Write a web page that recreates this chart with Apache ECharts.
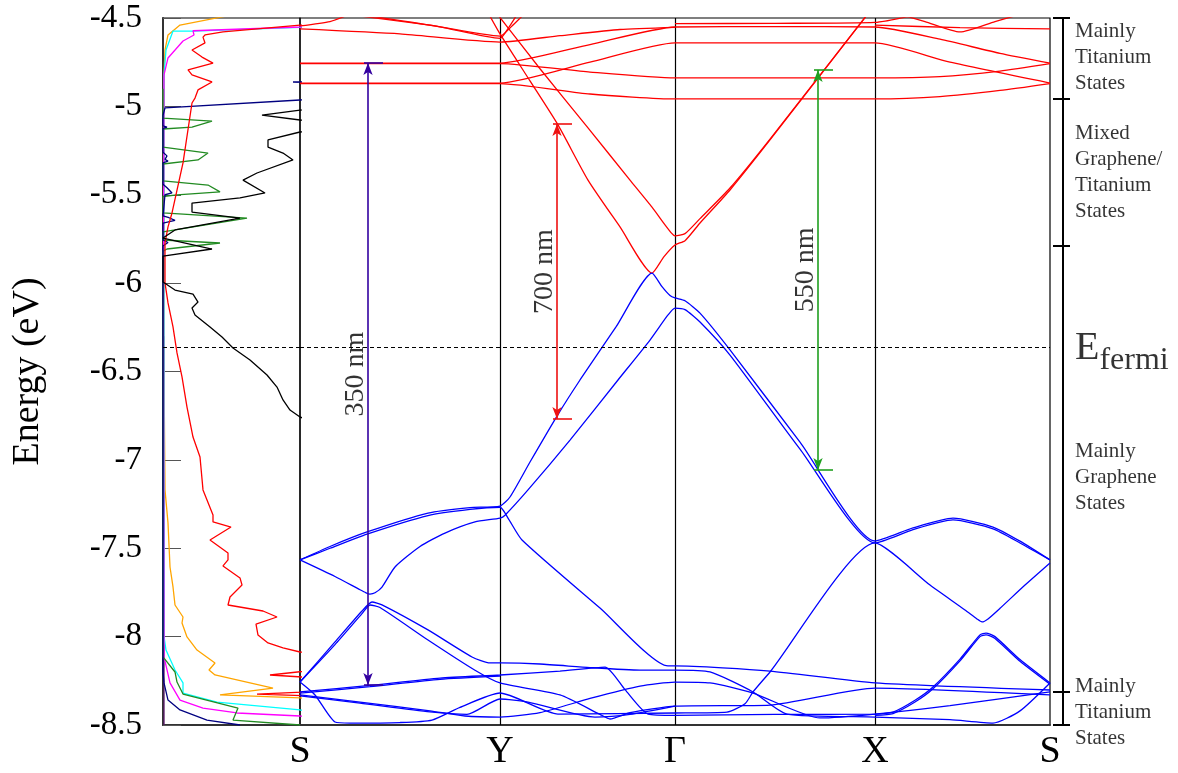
<!DOCTYPE html>
<html><head><meta charset="utf-8">
<script src="https://cdn.jsdelivr.net/npm/echarts@6/dist/echarts.min.js"></script>
<style>html,body{margin:0;padding:0;background:#fff}#c{width:1178px;height:773px}</style>
</head><body><div id="c"></div>
<script>
// ---------- data ----------
const kPoints = [0, 200, 375, 575, 750];
const kLabels = ['S', 'Y', 'Γ', 'X', 'S'];
const energyMin = -8.5, energyMax = -4.5, energyStep = 0.5;
const fermiLevel = -6.361;

// DOS components: [dos, energy]
const dosTotal = [[200,-4.5],[200,-4.99],[137,-5.021],[99,-5.049],[137,-5.077],[200,-5.11],[200,-5.13],[137,-5.145],[105,-5.190],[105,-5.230],[120,-5.264],[130,-5.303],[94,-5.377],[80,-5.417],[102,-5.490],[77,-5.518],[29,-5.547],[29,-5.598],[77,-5.632],[12,-5.699],[0,-5.745],[49,-5.807],[0,-5.847],[0,-5.994],[12,-6.039],[30,-6.062],[35,-6.107],[29,-6.141],[32,-6.180],[47,-6.248],[59,-6.305],[70,-6.367],[87,-6.435],[104,-6.520],[114,-6.588],[120,-6.661],[127,-6.718],[137,-6.757],[200,-6.9],[200,-8.5]];
const dosRed = [[200,-4.5],[200,-4.52],[137,-4.540],[60,-4.579],[42,-4.596],[40,-4.608],[42,-4.641],[29,-4.681],[39,-4.721],[50,-4.755],[25,-4.794],[29,-4.822],[49,-4.862],[35,-4.907],[32,-4.953],[29,-4.981],[20,-5.320],[9,-5.603],[5,-5.682],[2,-5.773],[2,-5.999],[5,-6.112],[10,-6.248],[14,-6.395],[19,-6.531],[24,-6.701],[30,-6.871],[37,-6.984],[40,-7.170],[50,-7.312],[50,-7.351],[68,-7.380],[47,-7.453],[65,-7.527],[65,-7.566],[60,-7.600],[77,-7.668],[79,-7.708],[67,-7.776],[65,-7.821],[100,-7.855],[114,-7.889],[93,-7.929],[95,-7.991],[105,-8.036],[120,-8.064],[137,-8.087],[200,-8.12],[200,-8.16],[107,-8.217],[200,-8.25],[200,-8.30],[94,-8.325],[200,-8.345],[200,-8.5]];
const dosOrange = [[90,-4.46],[59,-4.494],[17,-4.540],[5,-4.596],[2,-4.681],[1,-4.822],[1,-6.5],[2,-7.170],[5,-7.357],[7,-7.606],[10,-7.719],[12,-7.821],[20,-7.889],[19,-7.923],[24,-8.002],[34,-8.076],[52,-8.149],[46,-8.189],[52,-8.217],[110,-8.291],[57,-8.330],[137,-8.347],[200,-8.37],[200,-8.5]];
const dosCyan = [[200,-4.53],[137,-4.553],[30,-4.574],[10,-4.574],[3,-4.681],[1,-4.82],[1,-8.0],[3,-8.076],[12,-8.189],[20,-8.262],[20,-8.319],[54,-8.370],[137,-8.415],[200,-8.43]];
const dosMagenta = [[200,-4.52],[137,-4.551],[30,-4.572],[31,-4.596],[20,-4.630],[5,-4.726],[1,-4.822],[0.5,-6.0],[1,-8.115],[7,-8.262],[17,-8.359],[40,-8.404],[74,-8.432],[137,-8.449],[200,-8.46]];
const dosGreen = [[0,-4.9],[0,-5.066],[49,-5.083],[29,-5.117],[0,-5.128],[0,-5.23],[45,-5.264],[35,-5.303],[0,-5.326],[0,-5.422],[45,-5.445],[57,-5.484],[14,-5.501],[0,-5.51],[0,-5.603],[84,-5.632],[12,-5.699],[0,-5.71],[0,-5.756],[57,-5.773],[4,-5.807],[0,-5.82],[0,-8.115],[1,-8.121],[12,-8.200],[14,-8.257],[20,-8.325],[75,-8.404],[70,-8.472],[137,-8.5]];
const dosNavy = [[200,-4.5],[200,-4.85],[130,-4.862],[200,-4.875],[200,-4.95],[137,-4.964],[2,-5.009],[0,-5.05],[0,-5.11],[4,-5.117],[0,-5.125],[0,-5.26],[4,-5.28],[2,-5.30],[5,-5.31],[0,-5.32],[0,-5.44],[4,-5.46],[9,-5.49],[2,-5.50],[0,-5.51],[0,-5.62],[6,-5.63],[12,-5.645],[0,-5.66],[0,-5.755],[5,-5.77],[3,-5.78],[0,-5.79],[0,-8.2],[1,-8.262],[5,-8.359],[17,-8.415],[44,-8.472],[77,-8.5]];
const dosPurple = [[1,-6.3],[1,-8.5]];

// band structure: [k, energy]
const conductionBands = [
 [[0,-4.755],[200,-4.755],[290,-4.65],[375,-4.551],[475,-4.549],[575,-4.551],[640,-4.62],[700,-4.70],[750,-4.755]],
 [[0,-4.758],[200,-4.758],[290,-4.806],[375,-4.839],[475,-4.839],[575,-4.839],[640,-4.832],[700,-4.80],[750,-4.758]],
 [[0,-4.868],[200,-4.868],[290,-4.75],[375,-4.641],[475,-4.641],[575,-4.641],[650,-4.75],[750,-4.868]],
 [[0,-4.871],[200,-4.871],[290,-4.93],[375,-4.958],[475,-4.958],[575,-4.958],[640,-4.945],[700,-4.91],[750,-4.871]],
 [[0,-4.545],[30,-4.52],[45,-4.49]],
 [[0,-4.562],[100,-4.59],[200,-4.636],[260,-4.6],[320,-4.565],[375,-4.553]],
 [[62,-4.49],[130,-4.54],[200,-4.602],[212,-4.545],[222,-4.49]],
 [[72,-4.49],[140,-4.55],[200,-4.615],[208,-4.56],[216,-4.49]],
 [[375,-4.532],[475,-4.53],[575,-4.525],[610,-4.49]],
 [[575,-4.54],[660,-4.555],[750,-4.562]],
 [[600,-4.48],[625,-4.52],[660,-4.579],[695,-4.52],[720,-4.48]],
 [[190,-4.49],[200,-4.59],[230,-4.856],[258,-5.105],[288,-5.417],[320,-5.682],[352,-5.943],[364,-5.85],[375,-5.784],[385,-5.76],[400,-5.66],[430,-5.473],[470,-5.19],[566,-4.49]],
 [[199,-4.49],[240,-4.787],[288,-5.122],[330,-5.417],[352,-5.57],[365,-5.67],[372,-5.72],[375,-5.733],[385,-5.72],[400,-5.635],[430,-5.462],[470,-5.185],[566,-4.49]]
];
const valenceBands = [
 [[0,-7.566],[30,-7.49],[67,-7.408],[128,-7.301],[170,-7.27],[200,-7.261],[210,-7.21],[230,-7.012],[257,-6.752],[280,-6.548],[316,-6.248],[352,-5.943],[362,-6.02],[370,-6.07],[375,-6.084],[385,-6.10],[400,-6.17],[430,-6.378],[500,-6.90],[575,-7.459],[613,-7.385],[653,-7.33],[693,-7.38],[720,-7.46],[750,-7.566]],
 [[0,-7.566],[30,-7.50],[67,-7.42],[128,-7.315],[170,-7.28],[200,-7.268],[208,-7.329],[222,-7.453],[300,-7.838],[368,-8.166],[375,-8.166],[470,-8.195],[575,-8.262],[750,-8.302]],
 [[0,-7.566],[35,-7.66],[60,-7.735],[66,-7.752],[70,-7.759],[75,-7.752],[82,-7.72],[95,-7.606],[120,-7.49],[145,-7.414],[175,-7.351],[200,-7.329],[205,-7.313],[228,-7.17],[270,-6.888],[318,-6.548],[350,-6.322],[368,-6.18],[375,-6.141],[385,-6.15],[400,-6.22],[430,-6.407],[500,-6.939],[575,-7.47],[613,-7.395],[653,-7.34],[693,-7.39],[720,-7.47],[750,-7.566]],
 [[0,-8.257],[15,-8.33],[35,-8.483],[50,-8.489],[100,-8.486],[132,-8.472],[160,-8.40],[200,-8.319],[258,-8.438],[375,-8.432],[427,-8.427],[445,-8.38],[453,-8.313],[470,-8.20],[575,-7.47],[630,-7.708],[665,-7.849],[677,-7.90],[682,-7.917],[688,-7.90],[700,-7.84],[725,-7.708],[750,-7.583]],
 [[0,-8.257],[35,-8.03],[62,-7.855],[72,-7.804],[82,-7.82],[128,-7.962],[172,-8.115],[190,-8.149],[200,-8.149],[240,-8.155],[290,-8.175],[340,-8.189],[375,-8.189],[410,-8.2],[453,-8.313],[487,-8.438],[575,-8.455],[650,-8.47],[693,-8.489],[720,-8.42],[750,-8.262]],
 [[0,-8.257],[35,-8.045],[62,-7.87],[70,-7.821],[80,-7.835],[128,-8.019],[175,-8.19],[200,-8.262],[260,-8.33],[300,-8.44],[310,-8.466],[330,-8.43],[375,-8.393],[470,-8.387],[575,-8.291],[750,-8.33]],
 [[0,-8.313],[70,-8.276],[140,-8.235],[200,-8.217],[260,-8.195],[305,-8.172],[325,-8.30],[348,-8.438],[375,-8.445],[475,-8.44],[575,-8.438],[593,-8.427],[615,-8.36],[633,-8.285],[660,-8.127],[680,-7.99],[686,-7.98],[695,-8.0],[720,-8.13],[750,-8.262]],
 [[0,-8.32],[70,-8.283],[140,-8.242],[200,-8.224]],
 [[575,-8.445],[593,-8.435],[615,-8.37],[633,-8.295],[660,-8.137],[680,-8.0],[686,-7.99],[695,-8.01],[720,-8.14],[750,-8.27]],
 [[0,-8.330],[60,-8.37],[130,-8.42],[165,-8.449],[200,-8.455],[240,-8.43],[290,-8.35],[340,-8.28],[375,-8.257],[410,-8.262],[453,-8.319],[520,-8.46],[575,-8.438],[650,-8.39],[750,-8.313]],
 [[0,-8.335],[60,-8.376],[130,-8.426],[167,-8.44],[200,-8.353],[228,-8.37],[295,-8.455],[330,-8.44],[375,-8.393]]
];

// optical transitions
const arrowK = [68, 257, 518];
const arrowTop = [-4.755, -5.100, -4.794];
const arrowBottom = [-8.274, -6.769, -7.057];
const arrowLabels = ['350 nm', '700 nm', '550 nm'];
const arrowColors = ['#3300a0', '#ee1111', '#1f9f1f'];

// region annotation
const regionBounds = [-4.5, -4.958, -5.79, -8.313, -8.5];
const regionLabels = ['Mainly\nTitanium\nStates', 'Mixed\nGraphene/\nTitanium\nStates', 'Mainly\nGraphene\nStates', 'Mainly\nTitanium\nStates'];
const regionLabelEnergy = [-4.725, -5.372, -7.10, -8.43];

// ---------- chart ----------
const SERIF = "'Liberation Serif', 'DejaVu Serif', serif";
const chart = echarts.init(document.getElementById('c'), null, {renderer: 'canvas'});
const series = [];

const dosSets = [
  [dosPurple, '#5a1a6a'], [dosOrange, '#ffa500'], [dosCyan, '#00ffff'], [dosMagenta, '#ff00ff'],
  [dosGreen, '#228b22'], [dosNavy, '#000080'], [dosRed, '#ff0000'], [dosTotal, '#000000']
];
dosSets.forEach(([d, c], i) => {
  const s = {type: 'line', xAxisIndex: 0, yAxisIndex: 0, data: d, showSymbol: false, symbol: 'none',
    lineStyle: {color: c, width: 1.3}, itemStyle: {color: c}, silent: true, z: 3};
  if (i === dosSets.length - 1) {
    s.markLine = {silent: true, symbol: 'none', label: {show: false},
      lineStyle: {color: '#000', width: 1, type: [4, 3]}, data: [{yAxis: fermiLevel}]};
  }
  series.push(s);
});

const bandLine = (b, color) => ({type: 'line', xAxisIndex: 1, yAxisIndex: 1, data: b, showSymbol: false,
  symbol: 'none', smooth: 0.2, lineStyle: {color: color, width: 1.3}, silent: true, z: 3});

conductionBands.forEach((b, i) => {
  const s = bandLine(b, '#ff0000');
  if (i === 0) {
    s.markLine = {silent: true, symbol: 'none', label: {show: false}, z: 2,
      lineStyle: {color: '#000', width: 1.2, type: 'solid'},
      data: kPoints.slice(1, -1).map(k => ({xAxis: k}))};
  }
  if (i === 1) {
    s.markLine = {silent: true, symbol: 'none', label: {show: false},
      lineStyle: {color: '#000', width: 1, type: [4, 3]}, data: [{yAxis: fermiLevel}]};
  }
  series.push(s);
});
valenceBands.forEach(b => series.push(bandLine(b, '#0000ff')));

arrowK.forEach((k, i) => {
  const top = arrowTop[i], bot = arrowBottom[i];
  series.push({type: 'scatter', xAxisIndex: 1, yAxisIndex: 1, symbolSize: 0, silent: true, z: 6,
    data: [[k - 12, (top + bot) / 2]],
    label: {show: true, position: 'inside', rotate: 90, formatter: arrowLabels[i],
      fontFamily: SERIF, fontSize: 28, color: '#000'},
    markLine: {silent: true, symbol: ['arrow', 'arrow'], symbolSize: [7, 12], label: {show: false},
      lineStyle: {color: arrowColors[i], width: 1.6, type: 'solid'}, z: 6,
      data: [
        [{coord: [k, top]}, {coord: [k, bot]}],
        [{coord: [k - 4, top], symbol: 'none'}, {coord: [k + 15, top], symbol: 'none'}],
        [{coord: [k - 4, bot], symbol: 'none'}, {coord: [k + 15, bot], symbol: 'none'}]
      ]}
  });
});

// region bracket + labels
series.push({type: 'scatter', xAxisIndex: 2, yAxisIndex: 2, symbolSize: 0, silent: true,
  data: regionLabels.map((t, i) => ({value: [23, regionLabelEnergy[i]], name: t})),
  label: {show: true, position: 'right', distance: 2, formatter: p => p.name, align: 'left',
    fontFamily: SERIF, fontSize: 21, lineHeight: 26, color: '#000'},
  markLine: {silent: true, symbol: 'none', label: {show: false},
    lineStyle: {color: '#000', width: 2, type: 'solid'},
    data: [[{coord: [13, regionBounds[0]]}, {coord: [13, regionBounds[regionBounds.length - 1]]}]]
      .concat(regionBounds.map(b => [{coord: [3, b]}, {coord: [20, b]}]))}
});
series.push({type: 'scatter', xAxisIndex: 2, yAxisIndex: 2, symbolSize: 0, silent: true,
  data: [[23, fermiLevel]],
  label: {show: true, position: 'right', distance: 2, offset: [0, 6], formatter: '{e|E}{s|fermi}',
    rich: {e: {fontFamily: SERIF, fontSize: 40, color: '#000', verticalAlign: 'bottom', padding: [0, 0, 8, 0]},
           s: {fontFamily: SERIF, fontSize: 32, color: '#000', verticalAlign: 'bottom'}}}
});

const option = {
  animation: false,
  backgroundColor: '#fff',
  grid: [
    {left: 163, top: 18, width: 137, height: 707, show: true, borderColor: '#000', borderWidth: 1.2},
    {left: 300, top: 18, width: 750, height: 707, show: true, borderColor: '#000', borderWidth: 1.2},
    {left: 1050, top: 18, width: 25, height: 707, show: false}
  ],
  xAxis: [
    {type: 'value', gridIndex: 0, min: 0, max: 137, axisLabel: {show: false}, axisTick: {show: false},
      splitLine: {show: false}, axisLine: {show: true, onZero: false, lineStyle: {color: '#333', width: 2}}},
    {type: 'value', gridIndex: 1, min: kPoints[0], max: kPoints[kPoints.length - 1],
      splitLine: {show: false}, axisTick: {show: false},
      axisLine: {show: true, onZero: false, lineStyle: {color: '#333', width: 2}},
      axisLabel: {show: true, customValues: kPoints, formatter: v => kLabels[kPoints.indexOf(v)],
        fontFamily: SERIF, fontSize: 38, color: '#000', margin: 8, showMinLabel: true, showMaxLabel: true}},
    {type: 'value', gridIndex: 2, min: 0, max: 25, show: false}
  ],
  yAxis: [
    {type: 'value', gridIndex: 0, min: energyMin, max: energyMax, interval: energyStep,
      name: 'Energy (eV)', nameLocation: 'middle', nameRotate: 90, nameGap: 116,
      nameTextStyle: {fontFamily: SERIF, fontSize: 38, color: '#000'},
      axisLine: {show: true, onZero: false, lineStyle: {color: '#333', width: 2}},
      axisTick: {show: true, inside: true, length: 18, lineStyle: {color: '#555', width: 1}},
      axisLabel: {fontFamily: SERIF, fontSize: 33, color: '#000', margin: 21},
      splitLine: {show: false}},
    {type: 'value', gridIndex: 1, min: energyMin, max: energyMax, interval: energyStep,
      axisLine: {show: false}, axisTick: {show: false}, axisLabel: {show: false}, splitLine: {show: false}},
    {type: 'value', gridIndex: 2, min: energyMin, max: energyMax, show: false}
  ],
  series: series
};
chart.setOption(option);
</script>
</body></html>
